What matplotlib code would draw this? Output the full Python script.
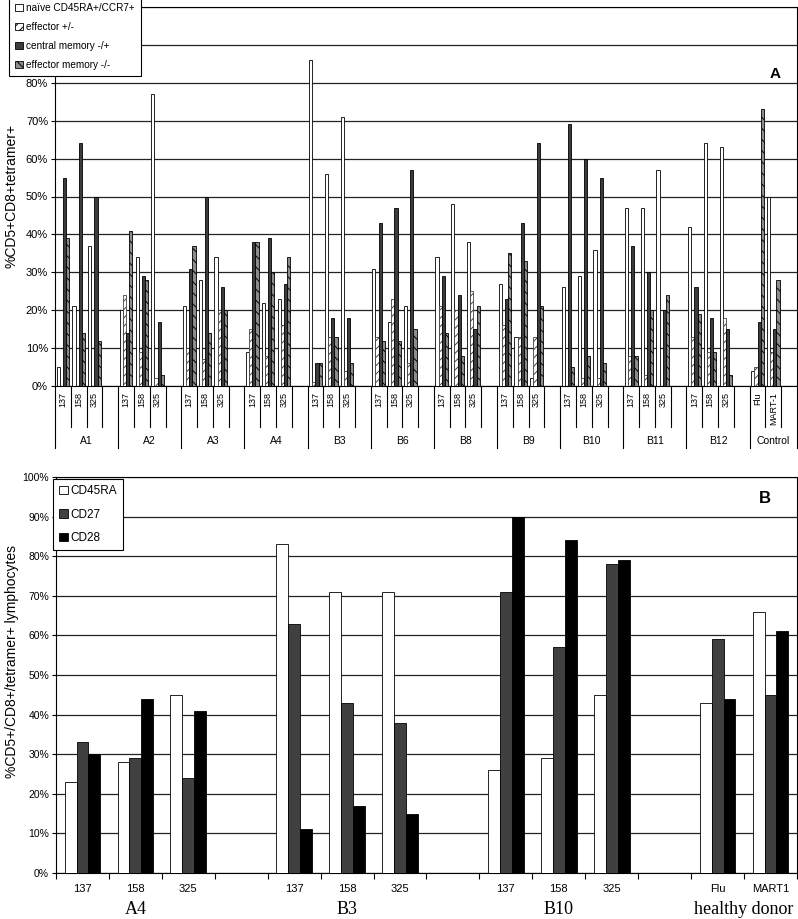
import matplotlib
matplotlib.use('Agg')
import matplotlib.pyplot as plt
import matplotlib.transforms as mtransforms
from matplotlib.patches import Patch
import numpy as np

plt.rcParams['font.family'] = ['Liberation Sans', 'DejaVu Sans']
plt.rcParams['hatch.linewidth'] = 0.7

# ---- panel A data (fraction of CD5+CD8+tetramer+ cells, %) ----
groups_a = ['A1', 'A2', 'A3', 'A4', 'B3', 'B6', 'B8', 'B9', 'B10', 'B11', 'B12', 'Control']
peptides_a = [['137', '158', '325']] * 11 + [['Flu', 'MART-1']]
naive = [5, 21, 37, 20, 34, 77, 21, 28, 34, 9, 22, 23, 86, 56, 71, 31, 17, 21,
         34, 48, 38, 27, 13, 2, 26, 29, 36, 47, 47, 57, 42, 64, 63, 4, 50]
effector = [0, 0, 0, 24, 9, 2, 10, 7, 20, 15, 8, 16, 1, 13, 4, 13, 23, 6,
            21, 20, 25, 16, 13, 13, 0, 2, 2, 8, 3, 0, 13, 9, 18, 5, 9]
central_mem = [55, 64, 50, 14, 29, 17, 31, 50, 26, 38, 39, 27, 6, 18, 18, 43, 47, 57,
               29, 24, 15, 23, 43, 64, 69, 60, 55, 37, 30, 20, 26, 18, 15, 17, 15]
effector_mem = [39, 14, 12, 41, 28, 3, 37, 14, 20, 38, 30, 34, 6, 13, 6, 12, 12, 15,
                14, 8, 21, 35, 33, 21, 5, 8, 6, 8, 20, 24, 19, 9, 3, 73, 28]
legend_a = ['naïve CD45RA+/CCR7+', 'effector +/-', 'central memory -/+', 'effector memory -/-']

# ---- panel B data ----
groups_b = ['A4', 'B3', 'B10', 'healthy donor']
peptides_b = [['137', '158', '325'], ['137', '158', '325'], ['137', '158', '325'], ['Flu', 'MART1']]
cd45ra = [23, 28, 45, 83, 71, 71, 26, 29, 45, 43, 66]
cd27 = [33, 29, 24, 63, 43, 38, 71, 57, 78, 59, 45]
cd28 = [30, 44, 41, 11, 17, 15, 90, 84, 79, 44, 61]
legend_b = ['CD45RA', 'CD27', 'CD28']

W, H = 798, 919
fig = plt.figure(figsize=(W / 100, H / 100), dpi=100)


def rect(l, t, r, b):
    return [l / W, 1 - b / H, (r - l) / W, (b - t) / H]


axA = fig.add_axes(rect(55, 7, 797, 386))
axB = fig.add_axes(rect(56, 477, 797, 873))

pct = np.arange(0, 101, 10)

# ================= panel A =================
xa, lab_a, bounds_group = [], [], [0]
slot = 0
for g, peps in enumerate(peptides_a):
    for k, p in enumerate(peps):
        xa.append(slot + k + 0.5)
        lab_a.append(p)
    slot += len(peps) + 1
    bounds_group.append(slot)
n_a = slot
xa = np.array(xa)

styles_a = [
    dict(color='white', edgecolor='black'),
    dict(color='white', edgecolor='#444444', hatch='////'),
    dict(color='#3c3c3c', edgecolor='black'),
    dict(color='#8c8c8c', edgecolor='black', hatch='\\\\\\'),
]
series_a = [naive, effector, central_mem, effector_mem]
offs = [-0.3, -0.1, 0.1, 0.3]
handles_a = []
for vals, st, o, lab in zip(series_a, styles_a, offs, legend_a):
    axA.bar(xa + o, vals, width=0.2, linewidth=0.6, zorder=3, **st)
    handles_a.append(Patch(facecolor=st['color'], edgecolor='black',
                           hatch=st.get('hatch'), linewidth=0.6, label=lab))

axA.set_xlim(0, n_a)
axA.set_ylim(0, 100)
axA.set_yticks(pct)
axA.set_yticklabels([f'{v}%' for v in pct], fontsize=8)
axA.set_xticks([])
axA.tick_params(axis='y', length=3, width=0.8, pad=2)
axA.yaxis.grid(True, color='#222222', linewidth=0.9)
axA.set_axisbelow(True)
for s in axA.spines.values():
    s.set_linewidth(0.8)

trA = mtransforms.blended_transform_factory(axA.transData, axA.transAxes)
hA = 379.0
for b in range(n_a + 1):
    depth = 62 / hA if b in bounds_group else 41 / hA
    axA.plot([b, b], [0, -depth], transform=trA, color='black', lw=0.8, clip_on=False)
for x, lab in zip(xa, lab_a):
    axA.text(x, -6 / hA, lab, rotation=90, ha='center', va='top', fontsize=6.5, transform=trA)
for g, name in enumerate(groups_a):
    c = (bounds_group[g] + bounds_group[g + 1]) / 2
    axA.text(c, -55 / hA, name, ha='center', va='center', fontsize=7.5, transform=trA)

# legend box runs off the top edge and hides the 90% / 100% labels, as in the original
legA = axA.legend(handles=handles_a, loc='lower left', bbox_to_anchor=(9 / W, 1 - 76 / H),
                  bbox_transform=fig.transFigure, fontsize=7.2, frameon=True, fancybox=False,
                  edgecolor='black', framealpha=1, borderaxespad=0, borderpad=0.6,
                  labelspacing=0.9, handlelength=0.8, handleheight=0.8, handletextpad=0.3)
legA.get_frame().set_linewidth(0.8)
legA.set_zorder(10)

fig.text(775 / W, 1 - 74 / H, 'A', fontsize=11, fontweight='bold', ha='center', va='center')
fig.text(12 / W, 1 - 196 / H, '%CD5+CD8+tetramer+', rotation=90, fontsize=10,
         ha='center', va='center')

# ================= panel B =================
xb, lab_b, centers_b = [], [], []
slot = 0
for peps in peptides_b:
    start = slot
    for k, p in enumerate(peps):
        xb.append(slot + k + 0.5)
        lab_b.append(p)
    slot += len(peps)
    centers_b.append((start + slot) / 2)
    slot += 1
n_b = slot - 1
xb = np.array(xb)

colors_b = ['white', '#404040', 'black']
offs_b = [-0.225, 0, 0.225]
handles_b = []
for vals, c, o, lab in zip([cd45ra, cd27, cd28], colors_b, offs_b, legend_b):
    axB.bar(xb + o, vals, width=0.225, color=c, edgecolor='black', linewidth=0.6, zorder=3)
    handles_b.append(Patch(facecolor=c, edgecolor='black', linewidth=0.6, label=lab))

axB.set_xlim(0, n_b)
axB.set_ylim(0, 100)
axB.set_yticks(pct)
axB.set_yticklabels([f'{v}%' for v in pct], fontsize=7.5)
axB.tick_params(axis='y', length=3, width=0.8, pad=2)
axB.set_xticks(np.arange(n_b + 1))
axB.set_xticklabels([])
axB.set_xticks(xb, minor=True)
axB.set_xticklabels(lab_b, minor=True, fontsize=8)
axB.tick_params(axis='x', which='major', length=4, width=0.8)
axB.tick_params(axis='x', which='minor', length=0, pad=8)
axB.yaxis.grid(True, color='#222222', linewidth=0.9)
axB.set_axisbelow(True)
for s in axB.spines.values():
    s.set_linewidth(0.8)

trB = mtransforms.blended_transform_factory(axB.transData, axB.transAxes)
for c, name in zip(centers_b, groups_b):
    axB.text(c, -37 / 396, name, ha='center', va='center', fontsize=13,
             family=['Liberation Serif', 'DejaVu Serif'], transform=trB)

legB = axB.legend(handles=handles_b, loc='upper left', bbox_to_anchor=(53 / W, 1 - 479 / H),
                  bbox_transform=fig.transFigure, fontsize=8.5, frameon=True, fancybox=False,
                  edgecolor='black', framealpha=1, borderaxespad=0, borderpad=0.55,
                  labelspacing=0.95, handlelength=0.7, handleheight=0.7, handletextpad=0.2)
legB.get_frame().set_linewidth(0.8)

fig.text(765 / W, 1 - 498 / H, 'B', fontsize=12, fontweight='bold', ha='center', va='center')
fig.text(12 / W, 1 - 662 / H, '%CD5+/CD8+/tetramer+ lymphocytes', rotation=90, fontsize=10,
         ha='center', va='center')

fig.savefig('out.png', dpi=100)
